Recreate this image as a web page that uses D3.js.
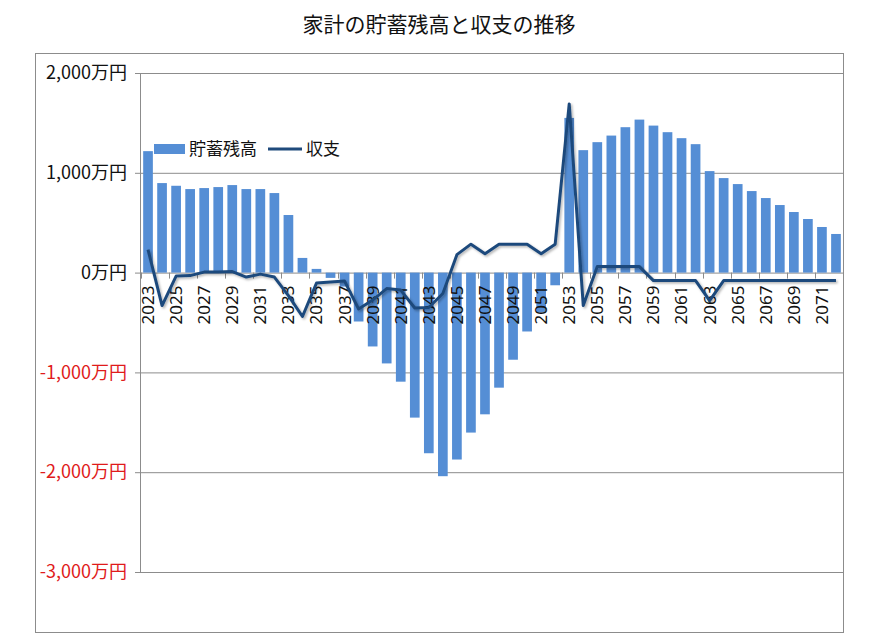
<!DOCTYPE html>
<html>
<head>
<meta charset="utf-8">
<script src="https://cdn.jsdelivr.net/npm/d3@7"></script>
<style>
  html, body { margin: 0; padding: 0; background: #fff; }
  svg { display: block; font-family: "Noto Sans CJK JP", "Noto Sans", sans-serif; }
</style>
</head>
<body>
<svg id="chart" width="877" height="642"></svg>
<script>
const title = "家計の貯蓄残高と収支の推移";
const years = d3.range(2023, 2073).map(String);
const savings = [
  1217, 897, 870, 837, 847, 857, 877, 837, 837, 797,
  577, 147, 37, -53, -140, -490, -740, -910, -1093, -1453,
  -1810, -2040, -1873, -1603, -1420, -1153, -873, -590, -400, -127,
  1550, 1227, 1307, 1373, 1457, 1533, 1473, 1407, 1347, 1287,
  1017, 947, 887, 817, 747, 677, 607, 537, 457, 387
];
const balance = [
  230, -330, -35, -30, 5, 5, 10, -45, -15, -45,
  -230, -440, -105, -95, -85, -365, -275, -160, -175, -355,
  -350, -210, 180, 285, 190, 285, 285, 285, 190, 285,
  1690, -330, 60, 60, 60, 60, -80, -80, -80, -80,
  -280, -80, -80, -80, -80, -80, -80, -80, -80, -80
];
const yTicks = [2000, 1000, 0, -1000, -2000, -3000];
const yTickLabels = ["2,000万円", "1,000万円", "0万円", "-1,000万円", "-2,000万円", "-3,000万円"];
const seriesNames = ["貯蓄残高", "収支"];

const svg = d3.select("#chart");
const pLeft = 141, pRight = 843, pTop = 73, pBottom = 572;
const x = d3.scaleBand().domain(years).range([pLeft, pRight]).paddingInner(0.31).paddingOuter(0.155);
const xc = d3.scalePoint().domain(years).range([pLeft, pRight]).padding(0.5);
const y = d3.scaleLinear().domain([-3000, 2000]).range([pBottom, pTop]);
const gridColor = "#8c8c8c";

// outer border
svg.append("rect").attr("x", 35.5).attr("y", 53.5).attr("width", 808).attr("height", 579)
  .attr("fill", "none").attr("stroke", gridColor).attr("stroke-width", 1);

// title
svg.append("text").attr("x", 439).attr("y", 32).attr("text-anchor", "middle")
  .attr("font-size", 21).attr("fill", "#111").text(title);

// y axis with gridlines
const yAxis = d3.axisLeft(y).tickValues(yTicks).tickSize(6).tickPadding(8)
  .tickFormat((d, i) => yTickLabels[i]);
const gy = svg.append("g").attr("transform", `translate(${pLeft},0)`).call(yAxis);
gy.select(".domain").attr("stroke", gridColor).attr("d", `M-0.5,${pTop}V${pBottom}`);
gy.selectAll(".tick line").attr("stroke", gridColor).attr("x1", -6).attr("x2", 0);
gy.selectAll(".tick").append("line").attr("class", "grid")
  .attr("x1", 0).attr("x2", pRight - pLeft).attr("stroke", gridColor);
gy.selectAll(".tick text").attr("font-size", 18)
  .attr("font-family", "\"Noto Sans CJK JP\", sans-serif")
  .attr("fill", d => d < 0 ? "#e01b1b" : "#111");

// bars
svg.append("g").selectAll("rect").data(savings).join("rect")
  .attr("x", (d, i) => x(years[i]))
  .attr("width", x.bandwidth())
  .attr("y", d => y(Math.max(0, d)))
  .attr("height", d => Math.abs(y(d) - y(0)))
  .attr("fill", "#558ed5");

// x axis at zero line
const xAxis = d3.axisBottom(x).tickSize(0).tickPadding(0)
  .tickValues(years.filter((d, i) => i % 2 === 0));
const gx = svg.append("g").attr("transform", `translate(0,${y(0)})`).call(xAxis);
gx.select(".domain").remove();
gx.selectAll(".tick text")
  .attr("font-size", 17).attr("fill", "#111")
  .attr("font-family", "\"Noto Sans\", sans-serif")
  .attr("transform", "rotate(-90)")
  .attr("text-anchor", "end")
  .attr("x", -13).attr("y", 0).attr("dy", "0.35em");
// tick marks every 2 categories at boundaries
const step = x.step();
const boundaries = d3.range(0, years.length + 1, 2).map(k => pLeft + k * step);
svg.append("g").selectAll("line").data(boundaries).join("line")
  .attr("x1", d => Math.round(d) + 0.5).attr("x2", d => Math.round(d) + 0.5)
  .attr("y1", y(0)).attr("y2", y(0) + 6).attr("stroke", gridColor);

// shadow filter for line
const defs = svg.append("defs");
const f = defs.append("filter").attr("id", "sh").attr("x", "-5%").attr("y", "-5%").attr("width", "110%").attr("height", "110%");
f.append("feDropShadow").attr("dx", 1.5).attr("dy", 1.5).attr("stdDeviation", 1.2)
  .attr("flood-color", "#000").attr("flood-opacity", 0.3);

// line
const line = d3.line().x((d, i) => xc(years[i])).y(d => y(d));
svg.append("path").datum(balance).attr("d", line)
  .attr("fill", "none").attr("stroke", "#1f4a7c").attr("stroke-width", 3)
  .attr("stroke-linejoin", "round").attr("filter", "url(#sh)");

// legend
const lg = svg.append("g");
lg.append("rect").attr("x", 154).attr("y", 144).attr("width", 31).attr("height", 10).attr("fill", "#558ed5");
lg.append("text").attr("x", 189).attr("y", 155).attr("font-size", 17).attr("fill", "#111").text(seriesNames[0]);
lg.append("line").attr("x1", 268).attr("x2", 302).attr("y1", 149).attr("y2", 149)
  .attr("stroke", "#1f4a7c").attr("stroke-width", 3);
lg.append("text").attr("x", 306).attr("y", 155).attr("font-size", 17).attr("fill", "#111").text(seriesNames[1]);
</script>
</body>
</html>
